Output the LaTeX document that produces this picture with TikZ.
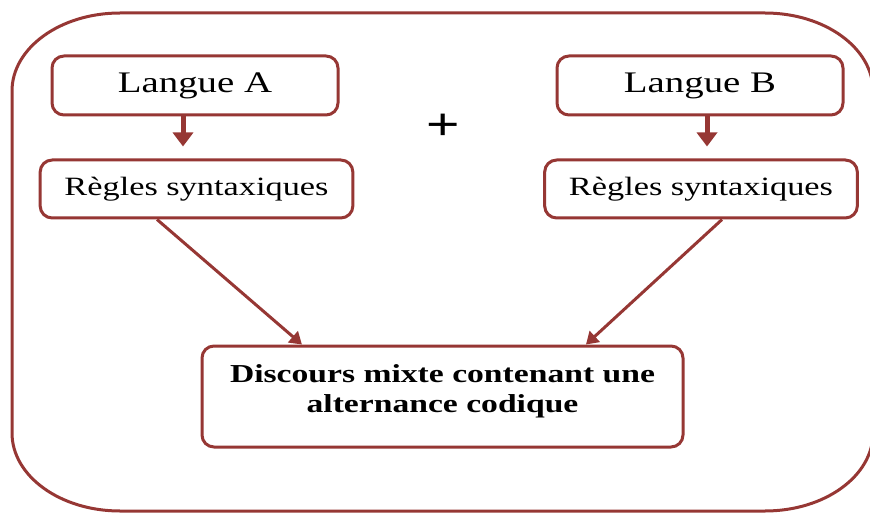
\documentclass[tikz,border=0pt]{standalone}
\usepackage{fontspec}
\setmainfont{Liberation Serif}[FakeStretch=1.3]
\newfontfamily\plusfont{Liberation Sans}[FakeStretch=1.3]
\usetikzlibrary{arrows.meta}
\definecolor{brd}{RGB}{150,55,52}
\tikzset{
  box/.style={draw=brd, line width=2.25pt, rounded corners=9pt, inner sep=0pt, fill=white},
  langbox/.style={box, minimum width=214.5pt, minimum height=44.25pt, font=\fontsize{22.4}{26}\selectfont},
  regbox/.style={box, minimum width=234.5pt, minimum height=43.5pt, font=\fontsize{19.8}{24}\selectfont},
  downarrow/.style={draw=brd, line width=3.75pt, -{Triangle[width=15pt,length=10.5pt]}, shorten >=9pt},
  diagarrow/.style={draw=brd, line width=2.25pt, -{Triangle[width=11pt,length=9pt]}},
  outer/.style={draw=brd, line width=2.25pt}
}
\begin{document}
\begin{tikzpicture}[x=0.75pt,y=-0.75pt]
\useasboundingbox (0,0) rectangle (870,513);
\clip (0,0) rectangle (870,513);
\path[outer] (12,91) .. controls (12,47.9) and (60.4,13) .. (120,13)
  -- (765,13) .. controls (824.6,13) and (873,47.9) .. (873,91)
  -- (873,433) .. controls (873,476.1) and (824.6,511) .. (765,511)
  -- (120,511) .. controls (60.4,511) and (12,476.1) .. (12,433) -- cycle;
\node[langbox] (la) at (195,85.5) {Langue A};
\node[langbox] (lb) at (700,85.5) {Langue B};
\node[regbox] (ra) at (196.5,189) {Règles syntaxiques};
\node[regbox] (rb) at (701,189) {Règles syntaxiques};
\node[box, minimum width=360.75pt, minimum height=75.75pt] (d) at (442.5,396.5) {};
\node[align=center, inner sep=0pt, font=\bfseries\fontsize{19.4}{22.5}\selectfont] (dt) at (442.5,391) {Discours mixte contenant une\\alternance codique};
\node[inner sep=0pt, font=\plusfont\fontsize{33}{33}\selectfont] (plus) at (443,127) {+};
\draw[downarrow] ([xshift=-9pt]la.south) -- ([xshift=-9pt]la.south |- ra.north);
\draw[downarrow] ([xshift=5.25pt]lb.south) -- ([xshift=5.25pt]lb.south |- rb.north);
\draw[diagarrow] ([xshift=-29.6pt]ra.south) -- ([xshift=-105.4pt]d.north);
\draw[diagarrow] ([xshift=15.75pt]rb.south) -- ([xshift=107.6pt]d.north);
\end{tikzpicture}
\end{document}
